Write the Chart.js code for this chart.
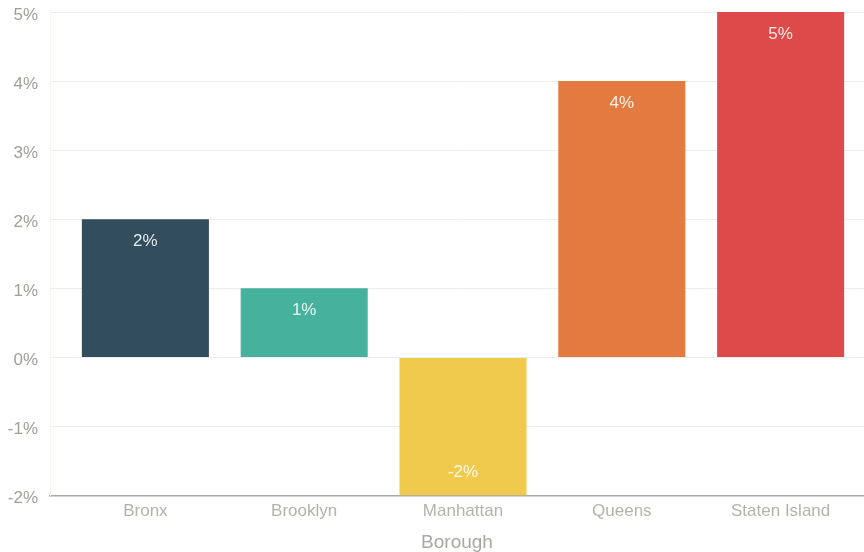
<!DOCTYPE html>
<html><head><meta charset="utf-8">
<script src="https://cdn.jsdelivr.net/npm/chart.js@4/dist/chart.umd.min.js"></script>
<style>html,body{margin:0;padding:0;background:#fff;}#wrap{width:864px;height:552px;}</style>
</head><body><div id="wrap"><canvas id="c" width="864" height="552"></canvas></div>
<script>
const categories = ["Bronx", "Brooklyn", "Manhattan", "Queens", "Staten Island"];
const values = [2, 1, -2, 4, 5];
const barColors = ["#324D5C", "#46B29D", "#F0CA4D", "#E37B40", "#DE4A4A"];
const yTicks = [-2, -1, 0, 1, 2, 3, 4, 5];
const xTitle = "Borough";

const FONT = "'Liberation Sans', Arial, sans-serif";

const labelPlugin = {
  id: 'barLabels',
  afterDatasetsDraw(chart) {
    const ctx = chart.ctx;
    const meta = chart.getDatasetMeta(0);
    ctx.save();
    ctx.font = "17px " + FONT;
    ctx.fillStyle = "rgba(255,255,255,0.88)";
    ctx.textAlign = "center";
    ctx.textBaseline = "middle";
    meta.data.forEach((bar, i) => {
      const v = values[i];
      const y = v >= 0 ? bar.y + 22 : bar.y - 23;
      ctx.fillText(v + "%", bar.x, y);
    });
    ctx.restore();
  }
};

new Chart(document.getElementById('c'), {
  type: 'bar',
  data: {
    datasets: [{
      data: values.map((v, i) => ({x: i, y: v})),
      backgroundColor: barColors,
      borderWidth: 0,
      barPercentage: 0.8,
      categoryPercentage: 1.0
    }]
  },
  options: {
    responsive: false,
    animation: false,
    layout: {padding: {top: 12, right: 0, left: 0, bottom: 0}},
    plugins: {legend: {display: false}, tooltip: {enabled: false}},
    scales: {
      x: {
        type: 'linear',
        offset: false,
        min: -0.6006,
        max: 4.525,
        afterBuildTicks(scale) { scale.ticks = categories.map((c, i) => ({value: i})); },
        ticks: {
          autoSkip: false,
          maxRotation: 0,
          color: "#b3b3ab",
          font: {size: 17, family: FONT},
          padding: 6,
          callback: (v) => categories[v]
        },
        grid: {display: false, drawTicks: false, offset: false},
        border: {display: true, color: "#a8a8a8", width: 1.5},
        title: {display: true, text: xTitle, color: "#a8a8a0", font: {size: 19, family: FONT, lineHeight: 1.0}, padding: {top: 5, bottom: 0}}
      },
      y: {
        min: -2, max: 5,
        afterBuildTicks(scale) { scale.ticks = yTicks.map(v => ({value: v})); },
        afterFit(scale) { scale.width = 50; scale.paddingTop = 0; scale.paddingBottom = 0; },
        ticks: {
          color: "#a0a098",
          font: {size: 17, family: FONT},
          padding: 12,
          labelOffset: 3,
          callback: (v) => v + "%"
        },
        grid: {color: "#ececec", lineWidth: 1, drawTicks: false},
        border: {display: true, color: "#f6f6ee", width: 1}
      }
    }
  },
  plugins: [labelPlugin]
});
</script></body></html>
